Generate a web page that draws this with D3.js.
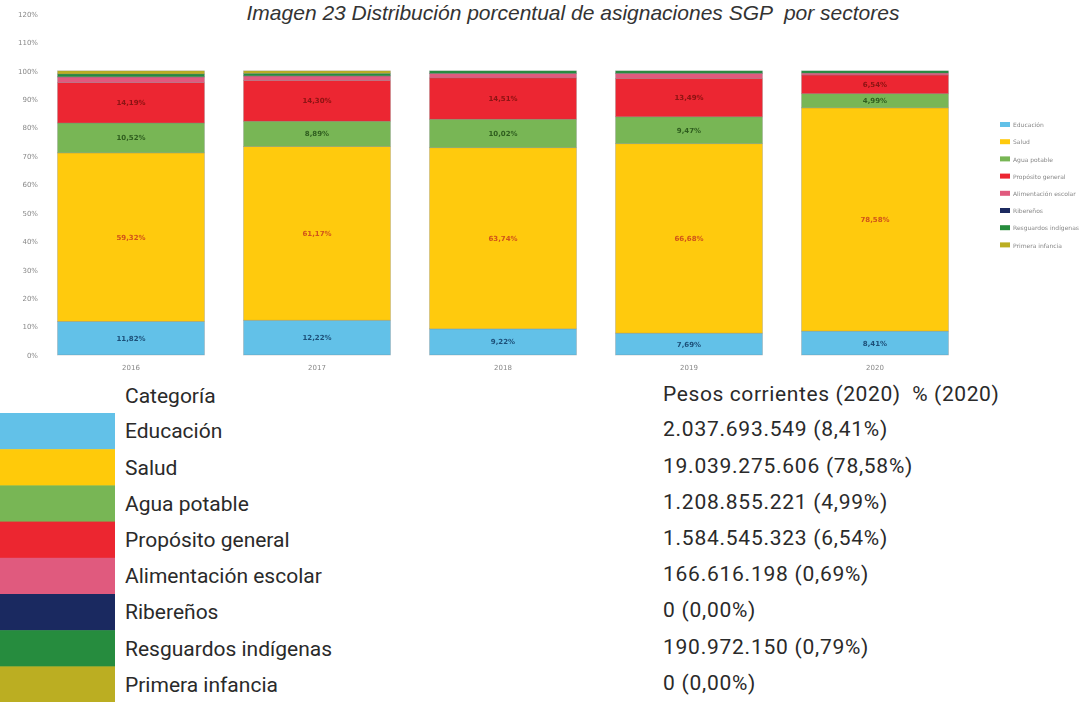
<!DOCTYPE html>
<html>
<head>
<meta charset="utf-8">
<script src="https://cdn.jsdelivr.net/npm/d3@7"></script>
<style>
  body { margin: 0; background: #fff; }
  svg { display: block; }
</style>
</head>
<body>
<svg id="chart" width="1092" height="702"></svg>
<script>
// Years on the x axis
const years = ["2016", "2017", "2018", "2019", "2020"];

// Sector names (stack order, bottom to top)
const categories = [
  "Educación", "Salud", "Agua potable", "Propósito general",
  "Alimentación escolar", "Ribereños", "Resguardos indígenas", "Primera infancia"
];

// Share of each sector per year (%)
const educacion    = [11.82, 12.22,  9.22,  7.69,  8.41];
const salud        = [59.32, 61.17, 63.74, 66.68, 78.58];
const aguaPotable  = [10.52,  8.89, 10.02,  9.47,  4.99];
const propositoGen = [14.19, 14.30, 14.51, 13.49,  6.54];
const alimentacion = [ 2.00,  1.60,  1.60,  1.80,  0.69];
const riberenos    = [ 0.05,  0.05,  0.04,  0.04,  0.00];
const resguardos   = [ 1.00,  0.90,  0.87,  0.83,  0.79];
const primeraInf   = [ 1.10,  0.87,  0.00,  0.00,  0.00];

// 2020 amounts in current pesos
const pesos2020 = [2037693549, 19039275606, 1208855221, 1584545323, 166616198, 0, 190972150, 0];

// Y axis tick values (%)
const yTicks = [0, 10, 20, 30, 40, 50, 60, 70, 80, 90, 100, 110, 120];

const series = [educacion, salud, aguaPotable, propositoGen, alimentacion, riberenos, resguardos, primeraInf];

const colors = ["#62c1e8", "#ffca0a", "#78b655", "#ec2630", "#e05a7e", "#1a2960", "#268c3e", "#bbae22"];
const labelColors = ["#1d4f78", "#d0531c", "#2f5d1f", "#8a1212"];

const es = d3.formatLocale({ decimal: ",", thousands: ".", grouping: [3], currency: ["$", ""] });
const fmtPct = es.format(".2f");
const fmtInt = es.format(",d");

const svg = d3.select("#chart");

// Soft focus for the small chart
const defs = svg.append("defs");
defs.append("filter").attr("id", "soft")
  .attr("x", "-2%").attr("y", "-2%").attr("width", "104%").attr("height", "104%")
  .append("feGaussianBlur").attr("stdDeviation", 0.5);

// Title
svg.append("text")
  .attr("x", 573).attr("y", 20)
  .attr("text-anchor", "middle")
  .attr("font-family", "Liberation Sans, Arial, sans-serif")
  .attr("font-style", "italic")
  .attr("font-size", 21)
  .attr("fill", "#333")
  .style("white-space", "pre")
  .text("Imagen 23 Distribución porcentual de asignaciones SGP  por sectores");

// Chart area
const plot = svg.append("g").attr("filter", "url(#soft)");

const x = d3.scaleBand().domain(years).range([38, 968]).paddingInner(0.21).paddingOuter(0.105);
const y = d3.scaleLinear().domain([0, 120]).range([355, 14]);

// Y axis
const yAxis = d3.axisLeft(y).tickValues(yTicks).tickSize(0).tickPadding(0).tickFormat(d => d + "%");
plot.append("g")
  .attr("transform", "translate(38,0)")
  .call(yAxis)
  .call(g => g.select(".domain").remove())
  .call(g => g.selectAll("text").attr("font-size", 7).attr("fill", "#888").attr("font-family", "DejaVu Sans, sans-serif"));

// X axis
const xAxis = d3.axisBottom(x).tickSize(0).tickPadding(0);
plot.append("g")
  .attr("transform", "translate(0,365)")
  .call(xAxis)
  .call(g => g.select(".domain").remove())
  .call(g => g.selectAll("text").attr("font-size", 7).attr("fill", "#888").attr("font-family", "DejaVu Sans, sans-serif"));

// Stacked bars
const rows = years.map((yr, i) => {
  const r = { year: yr };
  categories.forEach((c, k) => { r[c] = series[k][i]; });
  return r;
});
const stacked = d3.stack().keys(categories)(rows);

const layers = plot.selectAll("g.layer")
  .data(stacked)
  .join("g")
  .attr("class", "layer")
  .attr("fill", (d, k) => colors[k]);

layers.selectAll("rect")
  .data(d => d)
  .join("rect")
  .attr("x", d => x(d.data.year))
  .attr("width", x.bandwidth())
  .attr("y", d => y(d[1]))
  .attr("height", d => Math.max(0, y(d[0]) - y(d[1])))
  .attr("stroke", "rgba(120,120,120,0.35)")
  .attr("stroke-width", 0.8);

// Value labels on the four main sectors
stacked.slice(0, 4).forEach((layer, k) => {
  plot.append("g").selectAll("text")
    .data(layer)
    .join("text")
    .attr("x", d => x(d.data.year) + x.bandwidth() / 2)
    .attr("y", d => (y(d[0]) + y(d[1])) / 2)
    .attr("dy", "0.35em")
    .attr("text-anchor", "middle")
    .attr("font-family", "DejaVu Sans, sans-serif")
    .attr("font-size", 7)
    .attr("font-weight", "bold")
    .attr("fill", labelColors[k])
    .text(d => fmtPct(d[1] - d[0]) + "%");
});

// Legend at the right
const legend = plot.append("g").attr("transform", "translate(1000,125)");
const li = legend.selectAll("g").data(categories).join("g")
  .attr("transform", (d, k) => `translate(0,${k * 17.2})`);
li.append("rect").attr("x", 0).attr("y", -3).attr("width", 10).attr("height", 5)
  .attr("fill", (d, k) => colors[k]);
li.append("text").attr("x", 13).attr("y", 0).attr("dy", "0.35em")
  .attr("font-family", "DejaVu Sans, sans-serif").attr("font-size", 6).attr("fill", "#888")
  .text(d => d);

// Summary table for 2020
const table = svg.append("g");
const rowH = 36.2;
const top0 = 413;
const tf = "Roboto, sans-serif";

table.append("text").attr("x", 125).attr("y", 396).attr("dy", "0.35em")
  .attr("font-family", tf).attr("font-size", 21).attr("fill", "#2a2a2a").text("Categoría");
table.append("text").attr("x", 663).attr("y", 394).attr("dy", "0.35em")
  .attr("font-family", tf).attr("font-size", 21).attr("letter-spacing", 0.6).attr("fill", "#2a2a2a")
  .style("white-space", "pre")
  .text("Pesos corrientes (2020)  % (2020)");

const tr = table.selectAll("g.row").data(categories).join("g").attr("class", "row");
tr.append("rect")
  .attr("x", 0).attr("width", 115)
  .attr("y", (d, k) => top0 + k * rowH)
  .attr("height", rowH + 0.5)
  .attr("fill", (d, k) => colors[k]);
tr.append("text")
  .attr("x", 125).attr("y", (d, k) => top0 + k * rowH + rowH / 2)
  .attr("dy", "0.35em")
  .attr("font-family", tf).attr("font-size", 21).attr("fill", "#2a2a2a")
  .text(d => d);
tr.append("text")
  .attr("x", 663).attr("y", (d, k) => top0 + k * rowH + rowH / 2 - 2)
  .attr("dy", "0.35em")
  .attr("font-family", tf).attr("font-size", 21).attr("letter-spacing", 0.75).attr("fill", "#2a2a2a")
  .text((d, k) => fmtInt(pesos2020[k]) + " (" + fmtPct(series[k][4]) + "%)");
</script>
</body>
</html>
